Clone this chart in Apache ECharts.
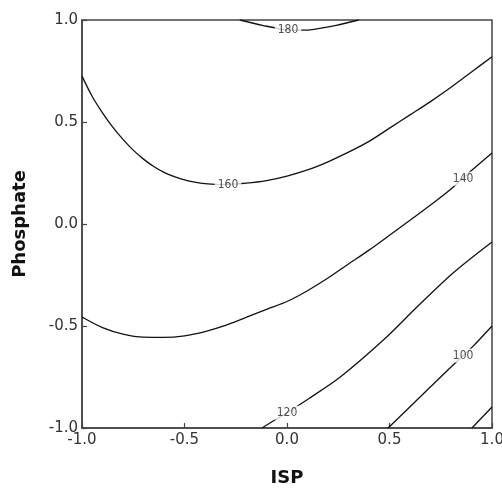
<!DOCTYPE html>
<html>
<head>
<meta charset="utf-8">
<script src="https://cdn.jsdelivr.net/npm/echarts@6/dist/echarts.min.js"></script>
<style>
  html, body { margin: 0; padding: 0; background: #fff; }
  #chart { width: 502px; height: 488px; }
</style>
</head>
<body>
<div id="chart"></div>
<script>
// Contour lines of the fitted response over coded ISP (x) and Phosphate (y)
const levels = [180, 160, 140, 120, 100, 80];

const contour180 = [[-0.23, 1.0], [-0.12, 0.974], [0.0, 0.952], [0.08, 0.95], [0.24, 0.974], [0.35, 1.0]];
const contour160 = [[-1.0, 0.725], [-0.95, 0.625], [-0.9, 0.545], [-0.85, 0.475], [-0.8, 0.415],
  [-0.75, 0.362], [-0.7, 0.318], [-0.65, 0.282], [-0.6, 0.253], [-0.55, 0.232], [-0.5, 0.216],
  [-0.45, 0.205], [-0.4, 0.198], [-0.3, 0.193], [-0.2, 0.2], [-0.1, 0.213], [0.0, 0.235],
  [0.1, 0.265], [0.2, 0.305], [0.3, 0.352], [0.4, 0.405], [0.5, 0.47], [0.6, 0.535],
  [0.7, 0.6], [0.8, 0.67], [0.9, 0.745], [1.0, 0.82]];
const contour140 = [[-1.0, -0.456], [-0.9, -0.508], [-0.8, -0.54], [-0.7, -0.555], [-0.6, -0.556],
  [-0.5, -0.548], [-0.4, -0.527], [-0.3, -0.497], [-0.2, -0.458], [-0.1, -0.418], [0.0, -0.38],
  [0.1, -0.327], [0.2, -0.265], [0.3, -0.196], [0.4, -0.128], [0.5, -0.055], [0.6, 0.018],
  [0.7, 0.093], [0.8, 0.172], [0.9, 0.262], [1.0, 0.348]];
const contour120 = [[-0.122, -1.0], [-0.05, -0.955], [0.0, -0.925], [0.1, -0.86], [0.26, -0.75],
  [0.47, -0.569], [0.634, -0.407], [0.81, -0.24], [1.0, -0.088]];
const contour100 = [[0.493, -1.0], [0.649, -0.848], [0.81, -0.691], [0.859, -0.645], [0.907, -0.6], [1.0, -0.5]];
const contour80 = [[0.902, -1.0], [1.0, -0.897]];

// Where each level's label sits on its line
const labelPoints = [[0.005, 0.951], [-0.288, 0.193], [0.859, 0.222], [0.0, -0.925], [0.859, -0.645]];
const labelTexts = ['180', '160', '140', '120', '100'];

const lines = [contour180, contour160, contour140, contour120, contour100, contour80];

const chart = echarts.init(document.getElementById('chart'));

const axisCommon = {
  type: 'value',
  min: -1,
  max: 1,
  interval: 0.5,
  nameLocation: 'middle',
  nameTextStyle: { fontFamily: 'DejaVu Sans', fontWeight: 'bold', fontSize: 18, color: '#111' },
  axisLine: { show: true, onZero: false, lineStyle: { color: '#444', width: 1.5 } },
  axisTick: { show: true, inside: true, length: 5, lineStyle: { color: '#444', width: 1.2 } },
  splitLine: { show: false },
  axisLabel: {
    fontFamily: 'DejaVu Sans', fontSize: 15, color: '#333',
    formatter: v => v.toFixed(1)
  }
};

const series = lines.map((pts, i) => ({
  type: 'line',
  name: String(levels[i]),
  data: pts,
  smooth: 0.3,
  showSymbol: false,
  symbol: 'none',
  lineStyle: { color: '#111', width: 1.3 },
  z: 2,
  silent: true
}));

series.push({
  type: 'scatter',
  data: labelPoints.map((p, i) => ({ value: p, name: labelTexts[i] })),
  symbolSize: 0,
  z: 5,
  label: {
    show: true,
    position: 'inside',
    formatter: p => p.name,
    fontFamily: 'DejaVu Sans Condensed, DejaVu Sans',
    fontSize: 12,
    color: '#222',
    backgroundColor: '#fff',
    padding: [1, 3]
  },
  silent: true
});

chart.setOption({
  animation: false,
  backgroundColor: '#fff',
  grid: {
    left: 82, right: 10, top: 20, bottom: 60,
    outerBoundsMode: 'none',
    containLabel: false,
    show: true, borderColor: '#444', borderWidth: 1.5
  },
  xAxis: Object.assign({}, axisCommon, {
    name: 'ISP', nameGap: 41,
    axisLabel: Object.assign({}, axisCommon.axisLabel, { margin: 5 })
  }),
  yAxis: Object.assign({}, axisCommon, {
    name: 'Phosphate', nameGap: 53,
    axisLabel: Object.assign({}, axisCommon.axisLabel, { margin: 4 })
  }),
  series: series
});
</script>
</body>
</html>
